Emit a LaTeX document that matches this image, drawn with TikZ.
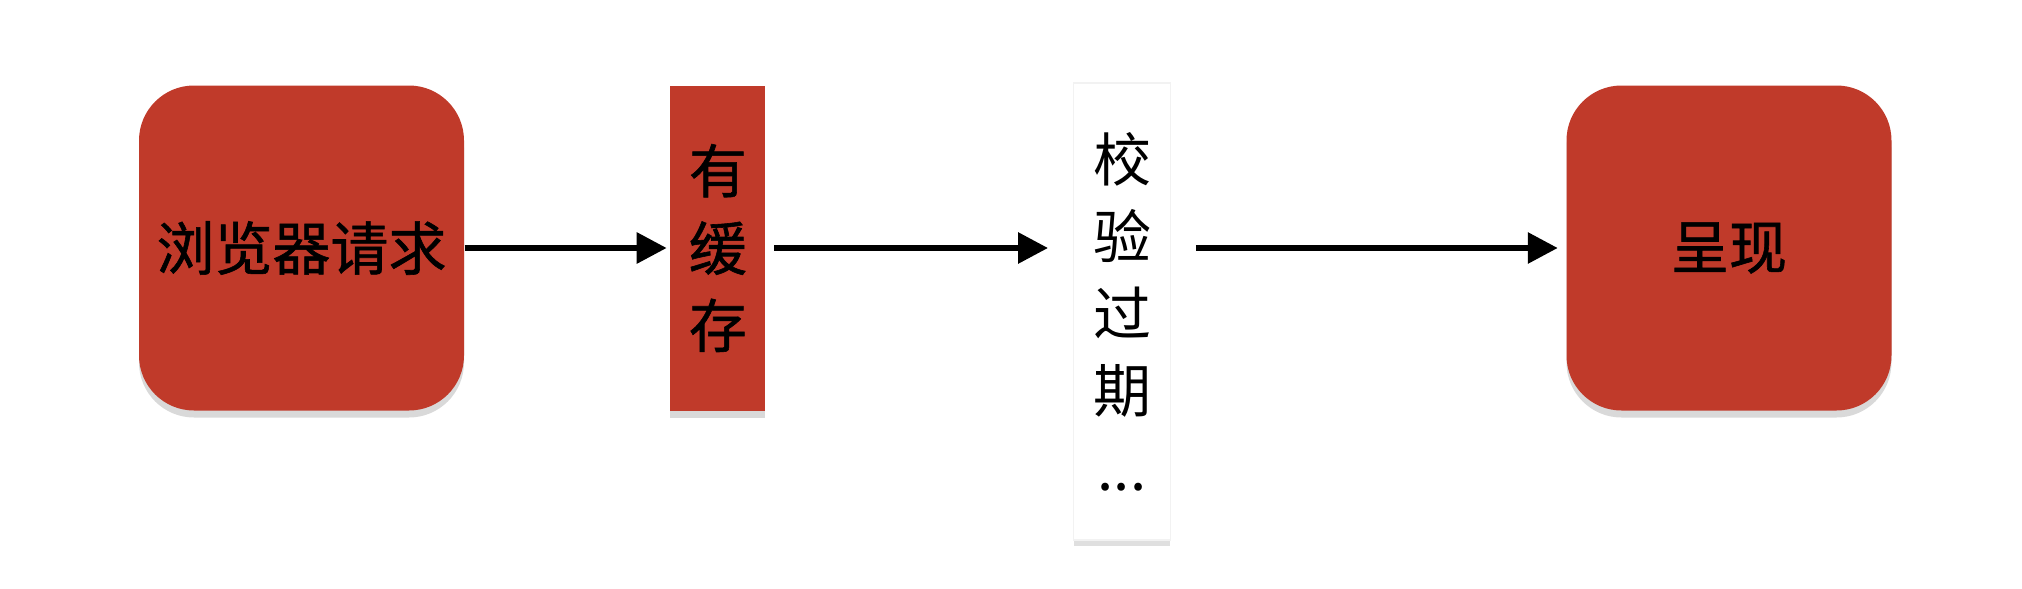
\documentclass[tikz,border=0pt]{standalone}
\usepackage{fontspec}
\setmainfont{Noto Sans CJK SC}
\newfontfamily\heavycjk[FakeBold=1.0]{Noto Sans CJK SC}
\usepackage{tikz}
\usetikzlibrary{arrows.meta, positioning, shadows}
\definecolor{brick}{RGB}{192,58,42}
\tikzset{
    card/.style={rectangle, rounded corners=0.55cm, fill=brick, inner sep=0pt,
      minimum width=3.25cm, minimum height=3.25cm,
      font=\fontsize{16.5pt}{22pt}\selectfont\heavycjk,
      drop shadow={opacity=0.3, shadow xshift=0cm, shadow yshift=-0.07cm}},
    strip/.style={rectangle, inner sep=0pt, minimum width=0.95cm, align=center},
    flow/.style={-{Triangle[length=0.3cm, width=0.3cm]}, line width=0.06cm},
}
\begin{document}
\begin{tikzpicture}
    \tikzset{
      node distance=2.05cm,
      every node/.append style={font=\fontsize{16.5pt}{22pt}\selectfont}
    }
    \useasboundingbox (0,0) rectangle (20.22,5.88);

    \node[card] (req) at (3.015,3.40) {浏览器请求};
    \node[strip, fill=brick, minimum height=3.25cm, right=of req,
      font=\fontsize{16.5pt}{22pt}\selectfont\heavycjk,
      drop shadow={opacity=0.3, shadow xshift=0cm, shadow yshift=-0.07cm}] (cache) {有\\缓\\存};
    \node[strip, fill=white, draw=black!5, minimum width=0.965cm, minimum height=4.57cm,
      drop shadow={opacity=0.25, shadow xshift=0cm, shadow yshift=-0.06cm}] (check) at (11.22,2.765) {校\\验\\过\\期\\...};
    \node[card] (show) at (17.29,3.40) {呈现};

    \draw[flow, shorten >=0.03cm] (req) -- (cache);
    \draw[flow, shorten <=0.08cm, shorten >=0.25cm] (cache) -- (cache -| check.west);
    \draw[flow, shorten <=0.25cm, shorten >=0.08cm] (check.east |- show) -- (show);
\end{tikzpicture}
\end{document}
